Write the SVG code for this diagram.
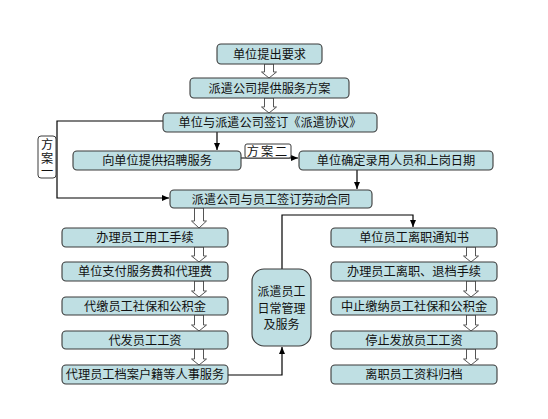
<svg xmlns="http://www.w3.org/2000/svg" width="548" height="419" viewBox="0 0 548 419">
<style>
.box{fill:#bfdfe3;stroke:#3a3a3a;stroke-width:1.1}
.lbl{fill:#ffffff;stroke:#3a3a3a;stroke-width:1}
.t{font-family:"Noto Sans CJK SC","Noto Sans",sans-serif;font-size:12.2px;fill:#111;text-anchor:middle}
.ln{fill:none;stroke:#000;stroke-width:1.2}
.ha{fill:#ffffff;stroke:#555;stroke-width:1}
</style>
<defs>
<marker id="ar" markerUnits="userSpaceOnUse" markerWidth="8" markerHeight="8" refX="7" refY="4" orient="auto">
<path d="M0,1 L7,4 L0,7 Z" fill="#000"/>
</marker>
</defs>
<rect width="548" height="419" fill="#ffffff"/>

<g id="connectors">
<path class="ln" d="M163,121 H57 V198 H169" marker-end="url(#ar)"/>
<path class="ln" d="M217,132 V150" marker-end="url(#ar)"/>
<path class="ln" d="M241,158 H298" marker-end="url(#ar)"/>
<path class="ln" d="M357,170 V189" marker-end="url(#ar)"/>
<path class="ln" d="M282,269 V215 H413 V227" marker-end="url(#ar)"/>
<path class="ln" d="M228,375 H282 V347" marker-end="url(#ar)"/>
<polygon class="ha" points="264.5,64 273.5,64 273.5,72 276.5,72 269,78 261.5,72 264.5,72"/>
<polygon class="ha" points="264.5,98 273.5,98 273.5,107 276.5,107 269,113 261.5,107 264.5,107"/>
<polygon class="ha" points="194.5,208 203.5,208 203.5,221 206.5,221 199,228 191.5,221 194.5,221"/>
<polygon class="ha" points="194.5,247 203.5,247 203.5,256 206.5,256 199,262 191.5,256 194.5,256"/>
<polygon class="ha" points="194.5,281 203.5,281 203.5,291 206.5,291 199,297 191.5,291 194.5,291"/>
<polygon class="ha" points="194.5,315 203.5,315 203.5,325 206.5,325 199,331 191.5,325 194.5,325"/>
<polygon class="ha" points="194.5,349 203.5,349 203.5,359 206.5,359 199,365 191.5,359 194.5,359"/>
<polygon class="ha" points="466.5,247 475.5,247 475.5,256 478.5,256 471,262 463.5,256 466.5,256"/>
<polygon class="ha" points="466.5,281 475.5,281 475.5,291 478.5,291 471,297 463.5,291 466.5,291"/>
<polygon class="ha" points="466.5,315 475.5,315 475.5,325 478.5,325 471,331 463.5,325 466.5,325"/>
<polygon class="ha" points="466.5,349 475.5,349 475.5,359 478.5,359 471,365 463.5,359 466.5,359"/>
</g>

<g id="n1"><rect class="box" x="217" y="44" width="105" height="20" rx="4"/><text class="t" x="269.5" y="58.5">单位提出要求</text></g>
<g id="n2"><rect class="box" x="190" y="78" width="159" height="20" rx="4"/><text class="t" x="269.5" y="92.5">派遣公司提供服务方案</text></g>
<g id="n3"><rect class="box" x="163" y="113" width="214" height="19" rx="4"/><text class="t" x="270" y="127">单位与派遣公司签订《派遣协议》</text></g>
<g id="plan1"><rect class="lbl" x="38" y="136" width="18" height="42" rx="3"/><text class="t" x="47" y="138.5" style="writing-mode:vertical-rl;text-anchor:start" letter-spacing="1.2">方案一</text></g>
<g id="n4"><rect class="box" x="73" y="151" width="168" height="19" rx="4"/><text class="t" x="157" y="165">向单位提供招聘服务</text></g>
<g id="plan2"><rect class="lbl" x="245" y="144" width="46" height="14" rx="2"/><text class="t" x="268" y="155.5" letter-spacing="2">方案二</text></g>
<g id="n6"><rect class="box" x="299" y="151" width="194" height="19" rx="4"/><text class="t" x="396" y="165">单位确定录用人员和上岗日期</text></g>
<g id="n5"><rect class="box" x="170" y="190" width="202" height="18" rx="4"/><text class="t" x="271" y="203.5">派遣公司与员工签订劳动合同</text></g>

<g id="l1"><rect class="box" x="62" y="228" width="166" height="19" rx="4"/><text class="t" x="145" y="242">办理员工用工手续</text></g>
<g id="l2"><rect class="box" x="62" y="262" width="166" height="19" rx="4"/><text class="t" x="145" y="276">单位支付服务费和代理费</text></g>
<g id="l3"><rect class="box" x="62" y="297" width="166" height="18" rx="4"/><text class="t" x="145" y="310.5">代缴员工社保和公积金</text></g>
<g id="l4"><rect class="box" x="62" y="331" width="166" height="18" rx="4"/><text class="t" x="145" y="344.5">代发员工工资</text></g>
<g id="l5"><rect class="box" x="62" y="365" width="166" height="19" rx="4"/><text class="t" x="145" y="379">代理员工档案户籍等人事服务</text></g>

<g id="mid"><rect class="box" x="252" y="269" width="59" height="77" rx="12"/><text class="t" x="281.5" y="296" style="font-size:12px">派遣员工<tspan x="281.5" dy="16.5">日常管理</tspan><tspan x="281.5" dy="16.5">及服务</tspan></text></g>

<g id="r1"><rect class="box" x="331" y="228" width="166" height="19" rx="4"/><text class="t" x="414" y="242">单位员工离职通知书</text></g>
<g id="r2"><rect class="box" x="331" y="262" width="166" height="19" rx="4"/><text class="t" x="414" y="276">办理员工离职、退档手续</text></g>
<g id="r3"><rect class="box" x="331" y="297" width="166" height="18" rx="4"/><text class="t" x="414" y="310.5">中止缴纳员工社保和公积金</text></g>
<g id="r4"><rect class="box" x="331" y="331" width="166" height="18" rx="4"/><text class="t" x="414" y="344.5">停止发放员工工资</text></g>
<g id="r5"><rect class="box" x="331" y="365" width="166" height="19" rx="4"/><text class="t" x="414" y="379">离职员工资料归档</text></g>
</svg>
